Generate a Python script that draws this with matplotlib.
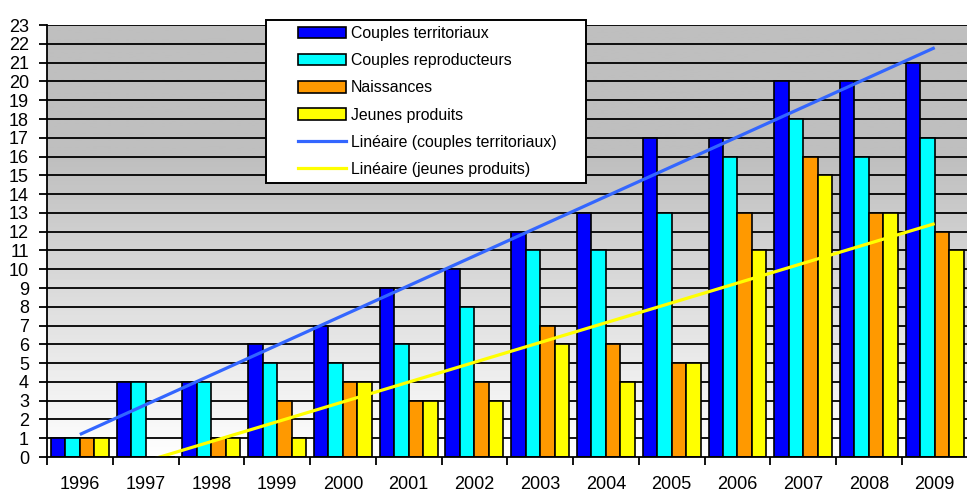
"""Couples / naissances / jeunes produits par année, barres groupées + tendances linéaires."""

import matplotlib
matplotlib.use("Agg")
import matplotlib.pyplot as plt
import numpy as np
from matplotlib.colors import LinearSegmentedColormap
from matplotlib.lines import Line2D
from matplotlib.patches import Patch, Rectangle

YEARS = ["1996", "1997", "1998", "1999", "2000", "2001", "2002",
         "2003", "2004", "2005", "2006", "2007", "2008", "2009"]
COUPLES_TERR = [1, 4, 4, 6, 7, 9, 10, 12, 13, 17, 17, 20, 20, 21]
COUPLES_REPRO = [1, 4, 4, 5, 5, 6, 8, 11, 11, 13, 16, 18, 16, 17]
NAISSANCES = [1, 0, 1, 3, 4, 3, 4, 7, 6, 5, 13, 16, 13, 12]
JEUNES = [1, 0, 1, 1, 4, 3, 3, 6, 4, 5, 11, 15, 13, 11]

SERIES = [
    ("Couples territoriaux", COUPLES_TERR, "#0000FF"),
    ("Couples reproducteurs", COUPLES_REPRO, "#00FFFF"),
    ("Naissances", NAISSANCES, "#FF9900"),
    ("Jeunes produits", JEUNES, "#FFFF00"),
]
C_TREND_TERR, C_TREND_JEUNES = "#3366FF", "#FFFF00"
YMAX = 23
W_PX, H_PX = 967, 493

plt.rcParams["font.family"] = ["Liberation Sans", "DejaVu Sans"]

fig = plt.figure(figsize=(W_PX / 100, H_PX / 100), dpi=100)
ax = fig.add_axes([0.0486, 0.073, 0.952, 0.876])

n = len(YEARS)
x = np.arange(n)
ax.set_xlim(-0.5, n - 0.5)
ax.set_ylim(0, YMAX)

# grey-to-white background gradient
grad = np.linspace(0, YMAX, 400)
shade = np.clip(grad / 16.0, 0, 1)
cmap = LinearSegmentedColormap.from_list("bg", ["#ffffff", "#bfbfbf"])
ax.imshow(shade[:, None], cmap=cmap, vmin=0, vmax=1, aspect="auto",
          origin="lower", extent=[-0.5, n - 0.5, 0, YMAX], zorder=0, interpolation="bilinear")

for yv in range(1, YMAX + 1):
    ax.axhline(yv, color="black", lw=1.3, zorder=1)

w = 0.22
for i, (label, vals, col) in enumerate(SERIES):
    ax.bar(x + (i - 1.5) * w, vals, width=w, color=col, edgecolor="black", linewidth=1.2, zorder=2)

# linear trends (least squares, like the spreadsheet trendline)
for vals, col in [(COUPLES_TERR, C_TREND_TERR), (JEUNES, C_TREND_JEUNES)]:
    a, b = np.polyfit(x, vals, 1)
    ax.plot(x, a * x + b, color=col, lw=2.3, zorder=3, solid_capstyle="butt")

ax.set_xticks(x)
ax.set_xticklabels(YEARS, fontsize=13)
ax.set_xticks(np.arange(-0.5, n, 1.0), minor=True)
ax.tick_params(axis="x", which="major", length=0, pad=14)
ax.tick_params(axis="x", which="minor", length=6, width=1.3, direction="out")
ax.set_yticks(range(0, YMAX + 1))
ax.set_yticklabels([str(v) for v in range(0, YMAX + 1)], fontsize=13)
ax.tick_params(axis="y", length=6, width=1.3, pad=7, direction="out")

for s in ["top", "right"]:
    ax.spines[s].set_visible(False)
for s in ["left", "bottom"]:
    ax.spines[s].set_linewidth(1.3)
    ax.spines[s].set_zorder(4)

# legend box (drawn separately so its width matches the original)
fig.patches.append(Rectangle((266 / W_PX, 1 - 183 / H_PX), 320 / W_PX, 163 / H_PX,
                             transform=fig.transFigure, facecolor="white", edgecolor="black",
                             linewidth=1.4, zorder=9))
handles = [Patch(facecolor=c, edgecolor="black", linewidth=1.2, label=l) for l, _, c in SERIES]
handles += [Line2D([0], [0], color=C_TREND_TERR, lw=2.3, label="Linéaire (couples territoriaux)"),
            Line2D([0], [0], color=C_TREND_JEUNES, lw=2.3, label="Linéaire (jeunes produits)")]
leg = fig.legend(handles=handles, loc="upper left", bbox_to_anchor=(298 / W_PX, 1 - 26 / H_PX),
                 fontsize=11.4, frameon=False, handlelength=3.0, handleheight=0.75,
                 handletextpad=0.35, labelspacing=0.77, borderpad=0, borderaxespad=0)
leg.set_zorder(10)

fig.savefig("out.png", dpi=100)
